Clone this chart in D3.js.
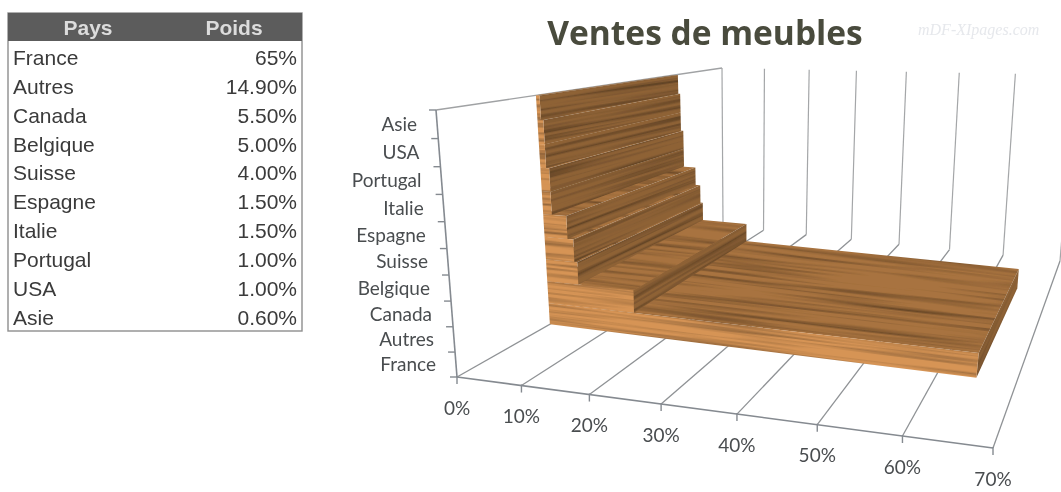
<!DOCTYPE html>
<html>
<head>
<meta charset="utf-8">
<script src="https://cdn.jsdelivr.net/npm/d3@7"></script>
<style>
html, body { margin: 0; padding: 0; background: #fff; }
svg { display: block; }
</style>
</head>
<body>
<div id="chart"></div>
<script>
const width = 1061;
const height = 492;

const categories = ["France", "Autres", "Canada", "Belgique", "Suisse", "Espagne", "Italie", "Portugal", "USA", "Asie"];
const values = [65, 14.9, 5.5, 5, 4, 1.5, 1.5, 1, 1, 0.6];
const valueLabels = ["65%", "14.90%", "5.50%", "5.00%", "4.00%", "1.50%", "1.50%", "1.00%", "1.00%", "0.60%"];
const valueTicks = [0, 10, 20, 30, 40, 50, 60, 70];
const tableHeaders = ["Pays", "Poids"];

const labelFont = "Lato, sans-serif";
const tableFont = "'Liberation Sans', Arial, sans-serif";

// corners of the 3D box on screen: c[value][depth][height]
const corners = [
    [[[457, 377], [436, 110]], [[723, 226], [722, 68]]],
    [[[993, 448], [1028, 138]], [[1060, 261], [1075, 75]]]
];

// perspective foreshortening along each axis
const warp = k => t => t * (1 + k) / (1 + k * t);
const warpU = warp(-0.18);
const warpV = warp(0.7);
const warpW = warp(-0.073);

const x = d3.scaleLinear().domain([0, 70]).range([0, 1]);
const z = d3.scaleBand().domain(categories).range([0, 1]);

const barFront = 0.24;
const barBack = 0.75;

function project(value, depth, up) {
    const u = warpU(x(value));
    const v = warpV(depth);
    const w = warpW(up);
    const pt = [0, 1].map(i => {
        const a = d3.interpolateNumber(corners[0][0][0][i], corners[1][0][0][i])(u);
        const b = d3.interpolateNumber(corners[0][1][0][i], corners[1][1][0][i])(u);
        const c = d3.interpolateNumber(corners[0][0][1][i], corners[1][0][1][i])(u);
        const d = d3.interpolateNumber(corners[0][1][1][i], corners[1][1][1][i])(u);
        const bottom = a + (b - a) * v;
        const top = c + (d - c) * v;
        return bottom + (top - bottom) * w;
    });
    return pt;
}

const svg = d3.select("#chart")
    .append("svg")
    .attr("width", width)
    .attr("height", height);

const defs = svg.append("defs");

// wood grain: stretched noise multiplied over the face colour
const wood = defs.append("filter")
    .attr("id", "wood")
    .attr("x", "0").attr("y", "0").attr("width", "1").attr("height", "1")
    .attr("color-interpolation-filters", "sRGB");
wood.append("feTurbulence")
    .attr("type", "fractalNoise")
    .attr("baseFrequency", "0.005 0.28")
    .attr("numOctaves", 2)
    .attr("seed", 11)
    .attr("result", "noise");
wood.append("feColorMatrix")
    .attr("in", "noise")
    .attr("type", "matrix")
    .attr("values", "0.85 0 0 0 0.52  0.85 0 0 0 0.52  0.85 0 0 0 0.52  0 0 0 0 1")
    .attr("result", "grain");
wood.append("feBlend")
    .attr("in", "SourceGraphic")
    .attr("in2", "grain")
    .attr("mode", "multiply");

const soft = defs.append("filter")
    .attr("id", "soft")
    .attr("filterUnits", "userSpaceOnUse")
    .attr("x", 0).attr("y", 0).attr("width", width).attr("height", height);
soft.append("feGaussianBlur").attr("stdDeviation", 0.7);

const chart = svg.append("g").attr("filter", "url(#soft)");

// title and watermark
chart.append("text")
    .attr("x", 705).attr("y", 45)
    .attr("text-anchor", "middle")
    .attr("font-family", "'Open Sans', sans-serif")
    .attr("font-weight", 700)
    .attr("font-size", 33.5)
    .attr("fill", "#4a4b3d")
    .text("Ventes de meubles");

chart.append("text")
    .attr("x", 918).attr("y", 35)
    .attr("font-family", "'Liberation Serif', serif")
    .attr("font-style", "italic")
    .attr("font-size", 16)
    .attr("fill", "#e6e8ec")
    .text("mDF-XIpages.com");

// walls and floor
const grid = chart.append("g").attr("fill", "none");

function line3d(from, to, color, w) {
    const a = project(...from);
    const b = project(...to);
    grid.append("line")
        .attr("x1", a[0]).attr("y1", a[1])
        .attr("x2", b[0]).attr("y2", b[1])
        .attr("stroke", color)
        .attr("stroke-width", w);
}

valueTicks.forEach(d => {
    line3d([d, 0, 0], [d, 1, 0], "#8f9295", 1.3);
    line3d([d, 1, 0], [d, 1, 1], "#a4a6a8", 1.2);
});
line3d([0, 1, 1], [0, 0, 1], "#a0a2a4", 1.4);
line3d([0, 0, 0], [0, 0, 1], "#858a90", 1.6);
line3d([0, 0, 0], [70, 0, 0], "#858a90", 1.6);

// axis tick marks
valueTicks.forEach(d => {
    const p = project(d, 0, 0);
    grid.append("line")
        .attr("x1", p[0]).attr("y1", p[1] - 1)
        .attr("x2", p[0]).attr("y2", p[1] + 7)
        .attr("stroke", "#858a90").attr("stroke-width", 1.4);
});
d3.range(categories.length + 1).forEach(i => {
    const p = project(0, 0, i / categories.length);
    grid.append("line")
        .attr("x1", p[0] - 7).attr("y1", p[1])
        .attr("x2", p[0]).attr("y2", p[1])
        .attr("stroke", "#858a90").attr("stroke-width", 1.4);
});

// the bars, from the bottom of the stack up
const bars = chart.append("g");
let faceId = 0;

function drawFace(points, grainFrom, grainTo, color) {
    const pts = points.map(p => project(...p));
    const a = project(...grainFrom);
    const b = project(...grainTo);
    const angle = Math.atan2(b[1] - a[1], b[0] - a[0]) * 180 / Math.PI;
    const id = "face" + (faceId++);
    defs.append("clipPath").attr("id", id)
        .append("polygon").attr("points", pts.join(" "));
    const cx = d3.mean(pts, p => p[0]);
    const cy = d3.mean(pts, p => p[1]);
    const size = Math.max(d3.max(pts, p => Math.abs(p[0] - cx)), d3.max(pts, p => Math.abs(p[1] - cy))) * 1.6 + 10;
    const face = bars.append("g").attr("clip-path", `url(#${id})`);
    face.append("rect")
        .attr("x", cx - size).attr("y", cy - size)
        .attr("width", size * 2).attr("height", size * 2)
        .attr("fill", color)
        .attr("filter", "url(#wood)")
        .attr("transform", `rotate(${angle} ${cx} ${cy})`);
}

categories.forEach((name, i) => {
    const val = values[i];
    const w0 = z(name);
    const w1 = w0 + z.bandwidth();
    drawFace(
        [[0, barFront, w1], [val, barFront, w1], [val, barBack, w1], [0, barBack, w1]],
        [0, barFront, w1], [val, barFront, w1], "#a8733f"
    );
    drawFace(
        [[val, barFront, w0], [val, barBack, w0], [val, barBack, w1], [val, barFront, w1]],
        [val, barFront, w1], [val, barBack, w1], "#8e6236"
    );
    drawFace(
        [[0, barFront, w0], [val, barFront, w0], [val, barFront, w1], [0, barFront, w1]],
        [0, barFront, w0], [70, barFront, w0], "#d69455"
    );
});

// axis labels
chart.append("g").selectAll("text")
    .data(categories)
    .join("text")
    .attr("x", d => project(0, 0, z(d) + z.bandwidth() / 2)[0] - 20)
    .attr("y", d => project(0, 0, z(d) + z.bandwidth() / 2)[1])
    .attr("dy", ".35em")
    .attr("text-anchor", "end")
    .attr("font-family", labelFont)
    .attr("font-size", 19)
    .attr("fill", "#4a4d50")
    .text(d => d);

chart.append("g").selectAll("text")
    .data(valueTicks)
    .join("text")
    .attr("x", d => project(d, 0, 0)[0])
    .attr("y", d => project(d, 0, 0)[1] + 31)
    .attr("dy", ".35em")
    .attr("text-anchor", "middle")
    .attr("font-family", labelFont)
    .attr("font-size", 19)
    .attr("fill", "#4a4d50")
    .text(d => d + "%");

// the table on the left
const table = chart.append("g");
const rowY = d3.scaleBand()
    .domain(categories)
    .range([43, 332]);

table.append("rect")
    .attr("x", 8).attr("y", 13)
    .attr("width", 294).attr("height", 318)
    .attr("fill", "#fff")
    .attr("stroke", "#8e8e8e")
    .attr("stroke-width", 1.4);
table.append("rect")
    .attr("x", 8).attr("y", 13)
    .attr("width", 294).attr("height", 28)
    .attr("fill", "#5c5c5c");

table.append("text")
    .attr("x", 88).attr("y", 35)
    .attr("text-anchor", "middle")
    .attr("font-family", tableFont)
    .attr("font-weight", 700)
    .attr("font-size", 21)
    .attr("fill", "#dcdcdc")
    .text(tableHeaders[0]);
table.append("text")
    .attr("x", 234).attr("y", 35)
    .attr("text-anchor", "middle")
    .attr("font-family", tableFont)
    .attr("font-weight", 700)
    .attr("font-size", 21)
    .attr("fill", "#dcdcdc")
    .text(tableHeaders[1]);

table.append("g").selectAll("text")
    .data(categories)
    .join("text")
    .attr("x", 13)
    .attr("y", d => rowY(d) + rowY.bandwidth() / 2)
    .attr("dy", ".35em")
    .attr("font-family", tableFont)
    .attr("font-size", 21)
    .attr("fill", "#3a3a3a")
    .text(d => d);

table.append("g").selectAll("text")
    .data(valueLabels)
    .join("text")
    .attr("x", 297)
    .attr("y", (d, i) => rowY(categories[i]) + rowY.bandwidth() / 2)
    .attr("dy", ".35em")
    .attr("text-anchor", "end")
    .attr("font-family", tableFont)
    .attr("font-size", 21)
    .attr("fill", "#3a3a3a")
    .text(d => d);
</script>
</body>
</html>
